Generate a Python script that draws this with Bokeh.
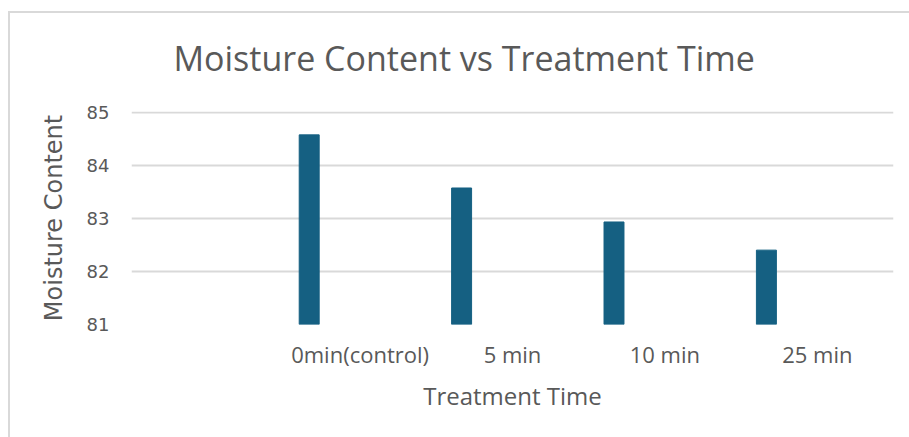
from bokeh.plotting import figure
from bokeh.models import Range1d, FixedTicker, ColumnDataSource
from bokeh.transform import dodge
from bokeh.embed import file_html
from bokeh.resources import INLINE

# ---- data ----
categories = ["0min(control)", "5 min", "10 min", "25 min"]
moisture = [84.57, 83.57, 82.93, 82.40]
y_ticks = [81, 82, 83, 84, 85]

# layout constants (style)
LEAD_SLOTS = 1          # empty leading category slot on the axis
BAR_OFFSET = -0.334     # bar drawn left of its category label
BAR_WIDTH = 0.131
GRAY = "#595959"
BORDER = "#d9d9d9"

positions = [i + LEAD_SLOTS + 0.5 for i in range(len(categories))]
source = ColumnDataSource(dict(pos=positions, cat=categories, val=moisture))

p = figure(width=901, height=437, output_backend="svg", toolbar_location=None,
           x_range=Range1d(0, len(categories) + LEAD_SLOTS),
           y_range=Range1d(y_ticks[0], y_ticks[-1] + 0.01),
           min_border_left=123, min_border_right=16,
           min_border_top=111, min_border_bottom=113,
           title="Moisture Content vs Treatment Time")

# chart-area frame lines (top and left) painted behind a transparent canvas
p.border_fill_color = None
p.background_fill_color = "white"
p.styles = {
    "margin-left": "8px",
    "background-color": "white",
    "background-image": f"linear-gradient({BORDER},{BORDER}), linear-gradient({BORDER},{BORDER})",
    "background-size": "100% 2px, 2px 100%",
    "background-position": "0 11px, 0 11px",
    "background-repeat": "no-repeat",
}

p.title.text_font = "Open Sans"
p.title.text_font_size = "34px"
p.title.text_font_style = "normal"
p.title.text_color = GRAY
p.title.align = "left"
p.title.offset = 42
p.title.standoff = 62

p.vbar(x=dodge("pos", BAR_OFFSET), top="val", bottom=y_ticks[0], width=BAR_WIDTH,
       color="#156082", source=source)

p.outline_line_color = None
p.xgrid.visible = False
p.ygrid.ticker = FixedTicker(ticks=y_ticks)
p.ygrid.grid_line_color = BORDER
p.ygrid.grid_line_width = 2

xax = p.below[0]
yax = p.left[0]
xax.ticker = FixedTicker(ticks=positions)
xax.major_label_overrides = {pos: cat for pos, cat in zip(positions, categories)}
yax.ticker = FixedTicker(ticks=y_ticks)

for ax in (xax, yax):
    ax.axis_line_color = None
    ax.major_tick_line_color = None
    ax.minor_tick_line_color = None
    ax.major_tick_out = 0
    ax.major_tick_in = 0
    ax.major_label_text_color = GRAY
    ax.axis_label_text_color = GRAY
    ax.axis_label_text_font_style = "normal"

xax.axis_label = "Treatment Time"
xax.major_label_text_font = "Open Sans"
xax.major_label_text_font_size = "22px"
xax.major_label_standoff = 14
xax.axis_label_text_font = "Open Sans"
xax.axis_label_text_font_size = "24px"
xax.axis_label_standoff = 7

yax.axis_label = "Moisture Content"
yax.major_label_text_font = "DejaVu Sans"
yax.major_label_text_font_size = "18px"
yax.major_label_standoff = 22
yax.axis_label_text_font = "DejaVu Sans"
yax.axis_label_text_font_size = "24px"
yax.axis_label_standoff = 16

open("out.html", "w").write(file_html(p, INLINE))
